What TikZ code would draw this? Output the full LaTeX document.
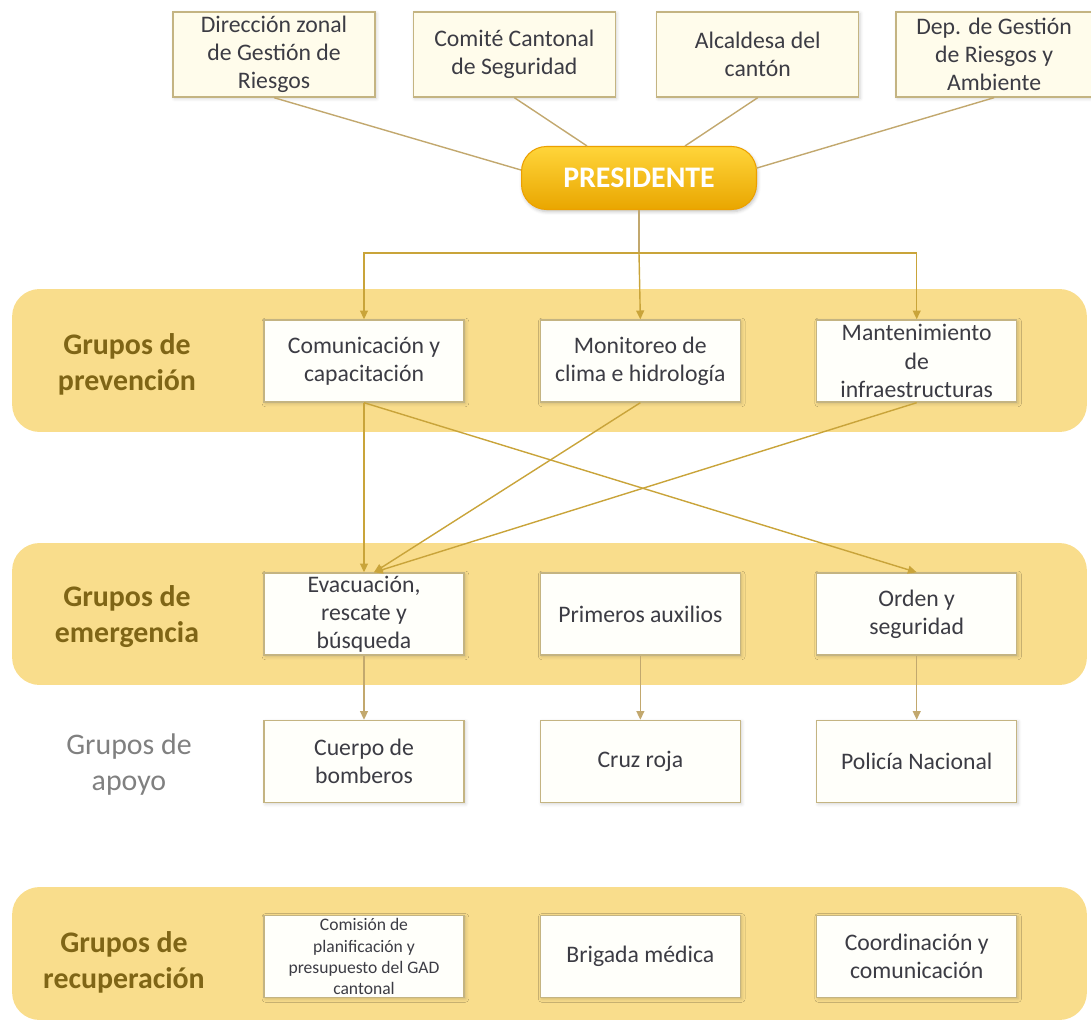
\documentclass[tikz,border=0pt]{standalone}
\usepackage{fontspec}
\setmainfont{Carlito}
\usepackage{tikz}
\usetikzlibrary{
  arrows.meta, positioning,
  shadows.blur
}
\definecolor{bandgold}  {HTML}{F9DD8C}
\definecolor{labelbrown}{HTML}{7F6516}
\definecolor{labelgray} {HTML}{808080}
\definecolor{boxline}   {HTML}{C4B482}
\definecolor{boxcream}  {HTML}{FFFCEB}
\definecolor{boxwhite}  {HTML}{FFFFFA}
\definecolor{boxtext}   {HTML}{3C3C44}
\definecolor{linktan}   {HTML}{C2A86E}
\definecolor{linkgold}  {HTML}{C9A43A}
\definecolor{presdark}  {HTML}{E9A600}
\definecolor{preslight} {HTML}{FFD53A}
\tikzset{
  unitbox/.style={
    rectangle, minimum width=4.0cm, minimum height=1.64cm,
    align=center, inner xsep=2pt, inner ysep=0pt,
    font=\fontsize{13.5}{16}\selectfont,
    draw=boxline, fill=#1, text=boxtext, line width=0.8pt,
    blur shadow={shadow xshift=0.8pt, shadow yshift=-0.8pt,
                 shadow opacity=18, shadow blur steps=4}
  },
  unitbox/.default=boxwhite,
  bandbox/.style={
    rectangle, rounded corners=0.55cm, fill=bandgold,
    minimum width=21.5cm, inner sep=0pt
  },
  grouplabel/.style={
    align=center, text=#1,
    font=\fontsize{17}{20.5}\selectfont\bfseries
  },
  toplink/.style={draw=linktan, line width=0.8pt},
  link/.style={draw=linkgold, line width=0.8pt},
  linkarr/.style={link, -{Triangle[length=5pt, width=4.5pt]}}
}

\begin{document}
\begin{tikzpicture}[x=0.02cm, y=-0.02cm]
  \useasboundingbox (0,0) rectangle (1091,1023);

  % group bands
  \node[bandbox, minimum height=2.86cm] (bprev) at (549.5,360.5) {};
  \node[bandbox, minimum height=2.84cm] (bemer) at (549.5,614) {};
  \node[bandbox, minimum height=2.66cm] (breco) at (549.5,953.5) {};

  \node[grouplabel=labelbrown] (lprev) at (127,364) {Grupos de\\prevención};
  \node[grouplabel=labelbrown] (lemer) at (127,617) {Grupos de\\emergencia};
  \node[grouplabel=labelgray, font=\fontsize{17}{20.5}\selectfont] (lapoy) at (129,765) {Grupos de\\apoyo};
  \node[grouplabel=labelbrown] (lreco) at (124,962) {Grupos de\\recuperación};

  % top row
  \node[unitbox=boxcream, minimum width=4.04cm, minimum height=1.7cm] (dzg) at (274,54.5)
    {Dirección zonal\\de Gestión de\\Riesgos};
  \node[unitbox=boxcream, minimum width=4.04cm, minimum height=1.7cm, right=0.74cm of dzg] (ccs)
    {Comité Cantonal\\de Seguridad};
  \node[unitbox=boxcream, minimum width=4.04cm, minimum height=1.7cm, right=0.8cm of ccs] (alc)
    {Alcaldesa del\\cantón};
  \node[unitbox=boxcream, minimum width=3.92cm, minimum height=1.7cm, right=0.72cm of alc] (dgr)
    {Dep. de Gestión\\de Riesgos y\\Ambiente};

  \node[rectangle, rounded corners=0.5cm, minimum width=4.7cm, minimum height=1.26cm,
        top color=preslight, bottom color=presdark, draw=presdark!85!orange, line width=0.6pt,
        text=white, font=\fontsize{17}{20}\selectfont\bfseries,
        blur shadow={shadow xshift=0.6pt, shadow yshift=-1.2pt, shadow opacity=25}]
    (pres) at (639,178) {PRESIDENTE};

  % prevention
  \node[unitbox] (comm) at (364,361) {Comunicación y\\capacitación};
  \node[unitbox, right=1.5cm of comm] (moni) {Monitoreo de\\clima e hidrología};
  \node[unitbox, right=1.5cm of moni] (mant) {Mantenimiento\\de\\infraestructuras};

  % emergency
  \node[unitbox] (evac) at (364,614) {Evacuación,\\rescate y\\búsqueda};
  \node[unitbox, right=1.5cm of evac] (prim) {Primeros auxilios};
  \node[unitbox, right=1.5cm of prim] (orden) {Orden y\\seguridad};

  % support
  \node[unitbox] (bomb) at (364,761.5) {Cuerpo de\\bomberos};
  \node[unitbox, right=1.5cm of bomb] (cruz) {Cruz roja};
  \node[unitbox, right=1.5cm of cruz] (poli) {Policía Nacional};

  % recovery
  \node[unitbox, font=\fontsize{10}{12}\selectfont] (comi) at (364,956.5)
    {Comisión de\\planificación y\\presupuesto del GAD\\cantonal};
  \node[unitbox, right=1.5cm of comi] (brig) {Brigada médica};
  \node[unitbox, right=1.5cm of brig] (coor) {Coordinación y\\comunicación};

  % links to president
  \draw[toplink] (dzg.south) -- ([yshift=0.16cm]pres.west);
  \draw[toplink] (ccs.south) -- ([xshift=-1.04cm]pres.north);
  \draw[toplink] (alc.south) -- ([xshift=0.92cm]pres.north);
  \draw[toplink] (dgr.south) -- ([yshift=0.2cm]pres.east);

  \coordinate (bar) at (639,253);
  \draw[toplink] (pres.south) -- (bar);
  \draw[linkarr] (bar) -| (comm.north);
  \draw[linkarr] (bar) -- (moni.north);
  \draw[linkarr] (bar) -| (mant.north);

  \draw[linkarr] (comm.south) -- (evac.north);
  \draw[linkarr] (moni.south) -- ([xshift=0.2cm]evac.north);
  \draw[linkarr] (mant.south) -- ([xshift=0.2cm]evac.north);
  \draw[linkarr] (comm.south) -- (orden.north);

  \foreach \a/\b in {evac/bomb, prim/cruz, orden/poli}{
    \draw[linkarr, draw=linktan] (\a) -- (\b);
  }
\end{tikzpicture}
\end{document}
